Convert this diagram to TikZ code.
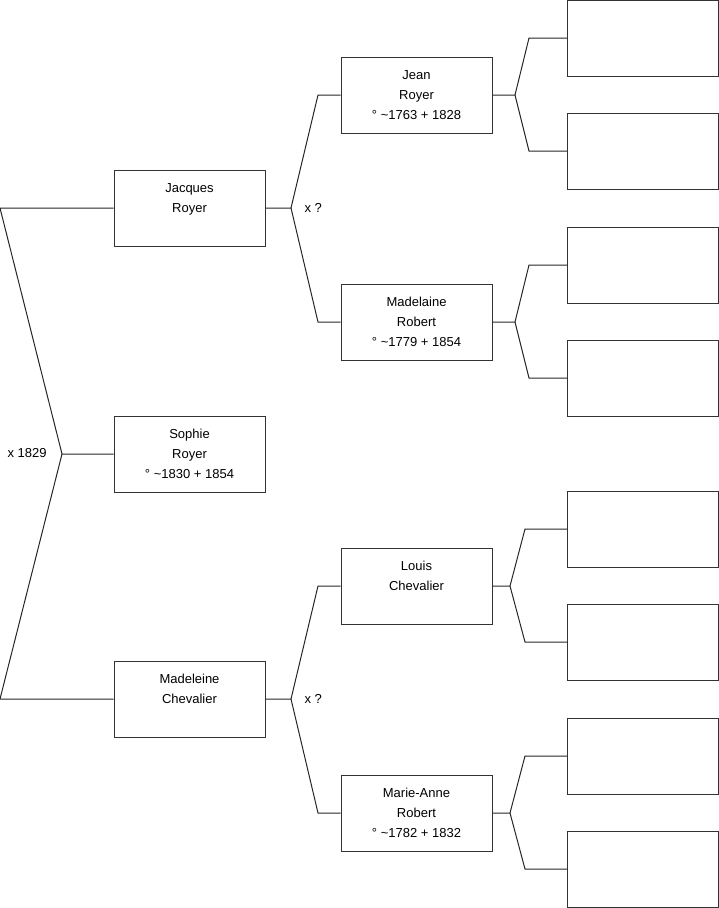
\documentclass[tikz,border=0pt]{standalone}
\usepackage{fontspec}
\setmainfont{Liberation Sans}
\tikzset{
  person/.style={draw=black!80, line width=1pt, minimum width=151pt, minimum height=76pt,
    inner sep=0pt, align=center, font=\fontsize{13}{20}\selectfont},
  link/.style={draw=black!85, line width=1pt},
  marriage/.style={anchor=west, font=\fontsize{13}{16}\selectfont}
}
\begin{document}
\begin{tikzpicture}[x=1pt, y=-1pt]
   \useasboundingbox (0,0) rectangle (719,908);

   \node [person] (sophie)    at (189.5,454) {Sophie\\Royer\\° \textasciitilde1830 + 1854};
   \node [person] (jacques)   at (189.5,208) {Jacques\\Royer\\~};
   \node [person] (madeleine) at (189.5,699) {Madeleine\\Chevalier\\~};

   \node [person] (jean)      at (416.5,95)  {Jean\\Royer\\° \textasciitilde1763 + 1828};
   \node [person] (madelaine) at (416.5,322) {Madelaine\\Robert\\° \textasciitilde1779 + 1854};
   \node [person] (louis)     at (416.5,586) {Louis\\Chevalier\\~};
   \node [person] (marieanne) at (416.5,813) {Marie-Anne\\Robert\\° \textasciitilde1782 + 1832};

   \foreach \i/\y in {1/38, 2/151, 3/265, 4/378, 5/529, 6/642, 7/756, 8/869}
      \node [person] (anc\i) at (643,\y) {};

   \node [marriage] (m1) at (4,453) {x 1829};
   \node [marriage] (m2) at (301,208) {x ?};
   \node [marriage] (m3) at (301,699) {x ?};

   \coordinate (v0) at (62,454);  \coordinate (t0) at (0,208);   \coordinate (b0) at (0,699);
   \coordinate (v1) at (291,208); \coordinate (t1) at (318,95);  \coordinate (b1) at (318,322);
   \coordinate (v2) at (291,699); \coordinate (t2) at (318,586); \coordinate (b2) at (318,813);
   \coordinate (v3) at (515,95);  \coordinate (t3) at (529,38);  \coordinate (b3) at (529,151);
   \coordinate (v4) at (515,322); \coordinate (t4) at (529,265); \coordinate (b4) at (529,378);
   \coordinate (v5) at (510,586); \coordinate (t5) at (525,529); \coordinate (b5) at (525,642);
   \coordinate (v6) at (510,813); \coordinate (t6) at (525,756); \coordinate (b6) at (525,869);

   \draw [link] (sophie.west) -- (v0) -- (t0) -- (jacques.west);
   \draw [link] (v0) -- (b0) -- (madeleine.west);
   \draw [link] (jacques.east) -- (v1) -- (t1) -- (jean.west);
   \draw [link] (v1) -- (b1) -- (madelaine.west);
   \draw [link] (madeleine.east) -- (v2) -- (t2) -- (louis.west);
   \draw [link] (v2) -- (b2) -- (marieanne.west);
   \draw [link] (jean.east) -- (v3) -- (t3) -- (anc1.west);
   \draw [link] (v3) -- (b3) -- (anc2.west);
   \draw [link] (madelaine.east) -- (v4) -- (t4) -- (anc3.west);
   \draw [link] (v4) -- (b4) -- (anc4.west);
   \draw [link] (louis.east) -- (v5) -- (t5) -- (anc5.west);
   \draw [link] (v5) -- (b5) -- (anc6.west);
   \draw [link] (marieanne.east) -- (v6) -- (t6) -- (anc7.west);
   \draw [link] (v6) -- (b6) -- (anc8.west);
\end{tikzpicture}
\end{document}
